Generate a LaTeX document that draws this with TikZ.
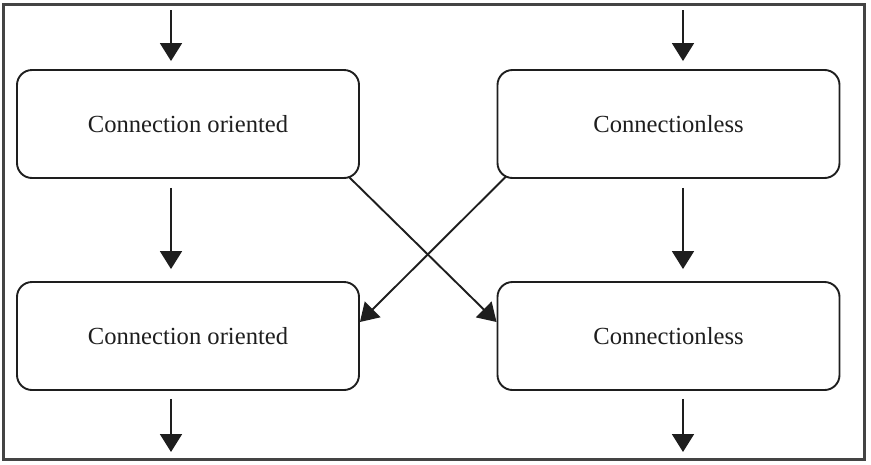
\documentclass[tikz,border=0pt]{standalone}
\usepackage{fontspec}
\setmainfont{Liberation Serif}
\usetikzlibrary{arrows.meta,calc}
\definecolor{ink}{HTML}{1E1E1E}
\definecolor{frame}{HTML}{444444}
\begin{document}
\begin{tikzpicture}[x=1pt,y=-1pt,
  box/.style={draw=ink,line width=1.9pt,rounded corners=15pt,minimum width=342pt,minimum height=108pt,inner sep=0pt,
    font=\fontsize{24.6}{29}\selectfont,text=ink},
  arr/.style={draw=ink,line width=1.9pt,-{Triangle[width=22pt,length=18pt]}}]
\useasboundingbox (0,0) rectangle (871,464);
\draw[frame,line width=3pt] (3,4) rectangle (864,459);
\node[box] (tl) at (188,124) {Connection oriented};
\node[box] (tr) at (668.5,124) {Connectionless};
\node[box] (bl) at (188,336) {Connection oriented};
\node[box] (br) at (668.5,336) {Connectionless};
\coordinate (inL) at (171,10);
\coordinate (inR) at (683,10);
\coordinate (outL) at (171,452);
\coordinate (outR) at (683,452);
\draw[arr,shorten >=8pt] (inL) -- (tl.north -| inL);
\draw[arr,shorten >=8pt] (inR) -- (tr.north -| inR);
\draw[arr,shorten <=9pt,shorten >=12pt] (tl.south -| inL) -- (bl.north -| inL);
\draw[arr,shorten <=9pt,shorten >=12pt] (tr.south -| inR) -- (br.north -| inR);
\draw[arr,shorten <=8pt] (bl.south -| outL) -- (outL);
\draw[arr,shorten <=8pt] (br.south -| outR) -- (outR);
\draw[arr] ($(tl.south east)+(-11,-2)$) -- ($(br.west)+(0,-14)$);
\draw[arr] ($(tr.south west)+(9,-2)$) -- ($(bl.east)+(0,-14)$);
\end{tikzpicture}
\end{document}
